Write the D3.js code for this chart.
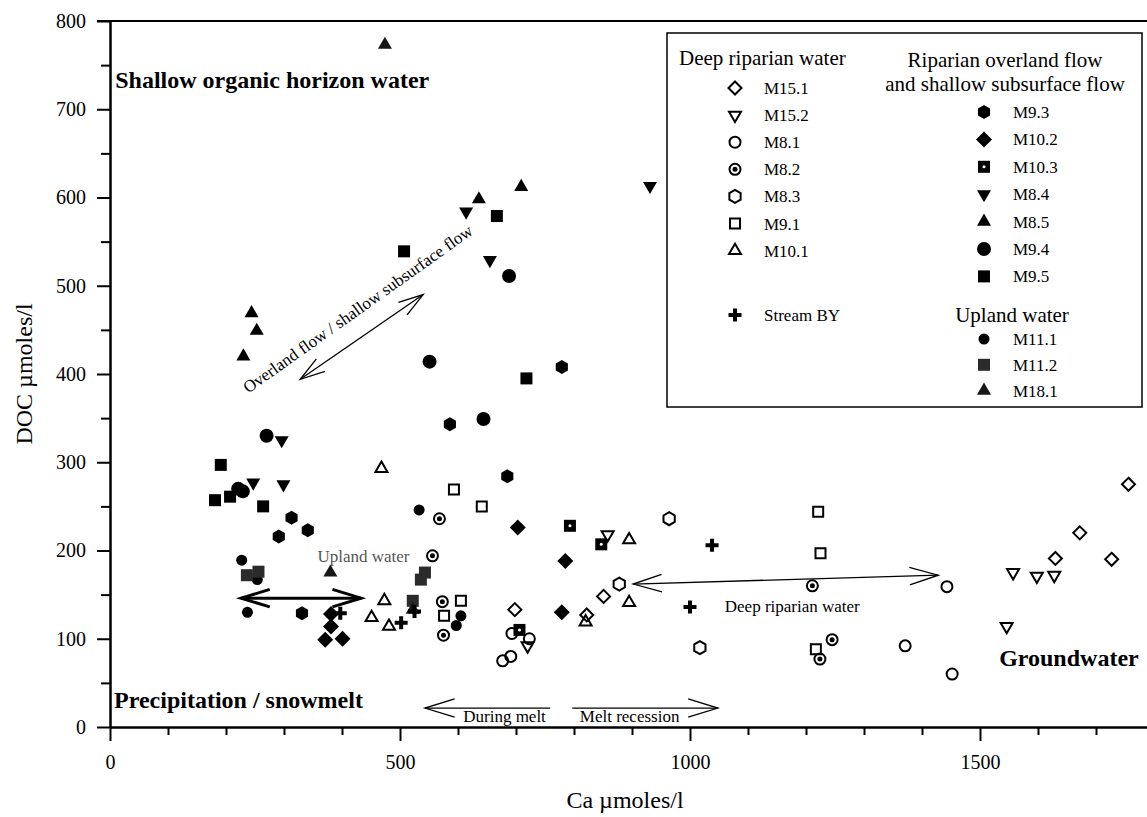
<!DOCTYPE html>
<html>
<head>
<meta charset="utf-8">
<script src="https://cdn.jsdelivr.net/npm/d3@7"></script>
<style>
  body { margin: 0; background: #fff; }
  text { font-family: "Liberation Serif", "Times New Roman", serif; fill: #000; }
</style>
</head>
<body>
<div id="chart"></div>
<script>
// Data: [Ca µmoles/l, DOC µmoles/l]
// Deep riparian water
var M15_1 = [[698,133],[822,127],[851,148],[1630,191],[1672,220],[1727,190],[1756,275]];
var M15_2 = [[858,218],[720,92],[1546,114],[1557,175],[1598,171],[1628,172]];
var M8_1  = [[693,106],[723,100],[677,75],[691,80],[1443,159],[1371,92],[1452,60]];
var M8_2  = [[568,236],[556,194],[573,142],[575,104],[1211,160],[1245,99],[1224,77]];
var M8_3  = [[964,236],[878,162],[1017,90]];
var M9_1  = [[593,269],[641,250],[605,143],[576,126],[1221,244],[1225,197],[1217,88]];
var M10_1 = [[468,293],[473,143],[451,124],[481,114],[895,212],[895,141],[820,119]];
var STREAM_BY = [[397,129],[502,118],[525,131],[1038,206],[1000,136]];
// Riparian overland flow and shallow subsurface flow
var M9_3  = [[313,237],[341,223],[291,216],[331,129],[586,343],[779,408],[685,284]];
var M10_2 = [[703,226],[785,188],[779,130],[381,128],[381,114],[371,99],[401,100]];
var M10_3 = [[793,228],[847,207],[706,110]];
var M8_4  = [[614,584],[655,529],[931,613],[296,325],[247,277],[299,275]];
var M8_5  = [[709,612],[636,598],[244,469],[253,449],[230,420]];
var M9_4  = [[270,330],[688,511],[551,414],[644,349],[221,270],[229,267]];
var M9_5  = [[507,539],[667,579],[718,395],[191,297],[207,261],[181,257],[264,250]];
// Upland water
var M11_1 = [[227,189],[237,130],[533,246],[605,126],[597,115],[254,167]];
var M11_2 = [[236,172],[256,176],[536,167],[543,175],[522,143]];
var M18_1 = [[474,773],[380,175],[522,133]];

var yTicks = [0,100,200,300,400,500,600,700,800];
var xTicks = [0,500,1000,1500];

var svgWidth = 1147;
var svgHeight = 817;

var svg = d3.select("#chart")
  .append("svg")
  .attr("width", svgWidth)
  .attr("height", svgHeight);

var x = d3.scaleLinear().domain([0, 1800]).range([110, 1154]);
var y = d3.scaleLinear().domain([0, 800]).range([727, 21]);

// marker shapes
function hexPath(r) {
  var p = d3.range(6).map(function(k) {
    var a = (-90 + k * 60) * Math.PI / 180;
    return [r * Math.cos(a), r * Math.sin(a)];
  });
  return "M" + p.join("L") + "Z";
}
function diamondPath(r) { return "M0," + (-r) + "L" + r + ",0L0," + r + "L" + (-r) + ",0Z"; }
function squarePath(a) { return "M" + (-a) + "," + (-a) + "h" + (2*a) + "v" + (2*a) + "h" + (-2*a) + "Z"; }
function triPath(s, down) {
  var h = s * Math.sqrt(3) / 2, k = down ? -1 : 1;
  return "M0," + (k * -2*h/3) + "L" + (s/2) + "," + (k * h/3) + "L" + (-s/2) + "," + (k * h/3) + "Z";
}
function circlePath(r) { return "M" + r + ",0A" + r + "," + r + " 0 1,1 " + (-r) + ",0A" + r + "," + r + " 0 1,1 " + r + ",0Z"; }
function crossPath(a, t) {
  return "M" + (-t) + "," + (-a) + "H" + t + "V" + (-t) + "H" + a + "V" + t + "H" + t + "V" + a +
    "H" + (-t) + "V" + t + "H" + (-a) + "V" + (-t) + "H" + (-t) + "Z";
}

var series = [
  {name: "M15.1", data: M15_1, path: diamondPath(6.5), fill: "none", sw: 2},
  {name: "M15.2", data: M15_2, path: triPath(12, true), fill: "none", sw: 2},
  {name: "M8.1", data: M8_1, path: circlePath(5.5), fill: "none", sw: 2},
  {name: "M8.2", data: M8_2, path: circlePath(5.5), fill: "none", sw: 2, dot: 2.5, dotFill: "#000"},
  {name: "M8.3", data: M8_3, path: hexPath(6.5), fill: "none", sw: 2},
  {name: "M9.1", data: M9_1, path: squarePath(5), fill: "none", sw: 2},
  {name: "M10.1", data: M10_1, path: triPath(12, false), fill: "none", sw: 2},
  {name: "M9.3", data: M9_3, path: hexPath(7), fill: "#000", sw: 0},
  {name: "M10.2", data: M10_2, path: diamondPath(8), fill: "#000", sw: 0},
  {name: "M10.3", data: M10_3, path: squarePath(6), fill: "#000", sw: 0, dot: 1.5, dotFill: "#fff"},
  {name: "M8.4", data: M8_4, path: triPath(14, true), fill: "#000", sw: 0},
  {name: "M8.5", data: M8_5, path: triPath(14, false), fill: "#000", sw: 0},
  {name: "M9.4", data: M9_4, path: circlePath(7), fill: "#000", sw: 0},
  {name: "M9.5", data: M9_5, path: squarePath(6), fill: "#000", sw: 0},
  {name: "M11.1", data: M11_1, path: circlePath(5.5), fill: "#000", sw: 0},
  {name: "M11.2", data: M11_2, path: squarePath(6), fill: "#2b2b2b", sw: 0},
  {name: "M18.1", data: M18_1, path: triPath(14, false), fill: "#161616", sw: 0},
  {name: "Stream BY", data: STREAM_BY, path: crossPath(6.5, 2), fill: "#000", sw: 0}
];
var byName = {};
series.forEach(function(s) { byName[s.name] = s; });

function drawMarker(g, s, px, py) {
  g.append("path")
    .attr("d", s.path)
    .attr("transform", "translate(" + px + "," + py + ")")
    .attr("fill", s.fill)
    .attr("stroke", s.sw ? "#000" : "none")
    .attr("stroke-width", s.sw);
  if (s.dot) {
    g.append("circle").attr("cx", px).attr("cy", py).attr("r", s.dot).attr("fill", s.dotFill);
  }
}

// axes
var yAxis = d3.axisLeft(y).tickValues(yTicks).tickSize(13).tickPadding(11).tickSizeOuter(0);
var yMinor = d3.axisLeft(y).tickValues(d3.range(50, 800, 100)).tickSize(9).tickFormat("").tickSizeOuter(0);
var xAxis = d3.axisBottom(x).tickValues(xTicks).tickFormat(d3.format("d"))
  .tickSize(14).tickPadding(14).tickSizeOuter(0);
var xMinor = d3.axisBottom(x).tickValues(d3.range(100, 1800, 100).filter(function(v) { return v % 500 !== 0; }))
  .tickSize(8).tickFormat("").tickSizeOuter(0);

[yAxis, yMinor].forEach(function(ax) {
  svg.append("g").attr("class", "axis").attr("transform", "translate(110,0)").call(ax);
});
[xAxis, xMinor].forEach(function(ax) {
  svg.append("g").attr("class", "axis").attr("transform", "translate(0,727)").call(ax);
});
svg.selectAll(".axis path, .axis line").attr("stroke", "#000").attr("stroke-width", 2);
svg.selectAll(".axis text").style("font-family", "Liberation Serif, serif").attr("font-size", 20);

// top frame line
svg.append("line").attr("x1", 97).attr("x2", svgWidth).attr("y1", y(800)).attr("y2", y(800))
  .attr("stroke", "#000").attr("stroke-width", 2);

// axis titles
svg.append("text")
  .attr("transform", "translate(24," + y(400) + ") rotate(-90)")
  .attr("text-anchor", "middle").attr("dy", "0.35em")
  .attr("font-size", 24).text("DOC µmoles/l");
svg.append("text")
  .attr("x", 625).attr("y", 808)
  .attr("text-anchor", "middle")
  .attr("font-size", 24).text("Ca µmoles/l");

// annotation arrows (data units)
var arrows = [
  {from: [328, 394], to: [540, 490], both: true, w: 1.3, len: 26},
  {from: [902, 162], to: [1428, 172], both: true, w: 1.3, len: 30},
  {from: [226, 146], to: [433, 146], both: true, w: 3, len: 30},
  {from: [759, 21.5], to: [543, 21.5], both: false, w: 1.3, len: 31},
  {from: [797, 21.5], to: [1048, 21.5], both: false, w: 1.3, len: 31}
];
function head(g, tip, tail, a) {
  var ang = Math.atan2(tail[1] - tip[1], tail[0] - tip[0]);
  var da = 17 * Math.PI / 180;
  var p1 = [tip[0] + a.len * Math.cos(ang + da), tip[1] + a.len * Math.sin(ang + da)];
  var p2 = [tip[0] + a.len * Math.cos(ang - da), tip[1] + a.len * Math.sin(ang - da)];
  g.append("path").attr("d", "M" + p1 + "L" + tip + "L" + p2)
    .attr("fill", "none").attr("stroke", "#000").attr("stroke-width", a.w);
}
var annG = svg.append("g");
arrows.forEach(function(a) {
  var p0 = [x(a.from[0]), y(a.from[1])], p1 = [x(a.to[0]), y(a.to[1])];
  annG.append("line").attr("x1", p0[0]).attr("y1", p0[1]).attr("x2", p1[0]).attr("y2", p1[1])
    .attr("stroke", "#000").attr("stroke-width", a.w);
  head(annG, p1, p0, a);
  if (a.both) head(annG, p0, p1, a);
});

// annotation texts
var notes = [
  {t: "Shallow organic horizon water", at: [9, 724], size: 24, bold: true},
  {t: "Precipitation / snowmelt", at: [7, 21.5], size: 24, bold: true},
  {t: "Groundwater", at: [1533, 69], size: 24, bold: true},
  {t: "Upland water", at: [437, 187], size: 17, anchor: "middle", color: "#555"},
  {t: "Deep riparian water", at: [1060, 130], size: 17},
  {t: "During melt", at: [609, 5.7], size: 17},
  {t: "Melt recession", at: [810, 5.7], size: 17}
];
notes.forEach(function(n) {
  annG.append("text")
    .attr("x", x(n.at[0])).attr("y", y(n.at[1]))
    .attr("text-anchor", n.anchor || "start")
    .attr("font-size", n.size)
    .attr("font-weight", n.bold ? "bold" : "normal")
    .style("fill", n.color || "#000")
    .text(n.t);
});
annG.append("text")
  .attr("transform", "translate(" + x(427) + "," + y(474) + ") rotate(-35.4)")
  .attr("text-anchor", "middle").attr("dy", "0.35em")
  .attr("font-size", 17)
  .text("Overland flow / shallow subsurface flow");

// points
var pts = svg.append("g");
series.forEach(function(s) {
  s.data.forEach(function(d) { drawMarker(pts, s, x(d[0]), y(d[1])); });
});

// legend
var leg = svg.append("g");
leg.append("rect").attr("x", 667).attr("y", 33).attr("width", 475).attr("height", 374)
  .attr("fill", "#fff").attr("stroke", "#000").attr("stroke-width", 1.5);

var legHeads = [
  {t: "Deep riparian water", x: 679, y: 65, anchor: "start"},
  {t: "Riparian overland flow", x: 1005, y: 67, anchor: "middle"},
  {t: "and shallow subsurface flow", x: 1005, y: 91, anchor: "middle"},
  {t: "Upland water", x: 1012, y: 322, anchor: "middle"}
];
legHeads.forEach(function(h) {
  leg.append("text").attr("x", h.x).attr("y", h.y).attr("text-anchor", h.anchor)
    .attr("font-size", 21).text(h.t);
});

var legLeft = ["M15.1", "M15.2", "M8.1", "M8.2", "M8.3", "M9.1", "M10.1"];
var legRight = ["M9.3", "M10.2", "M10.3", "M8.4", "M8.5", "M9.4", "M9.5"];
var legUpland = ["M11.1", "M11.2", "M18.1"];

function legItem(name, sx, sy) {
  drawMarker(leg, byName[name], sx, sy);
  leg.append("text").attr("x", sx + 29).attr("y", sy + 6).attr("font-size", 17).text(name);
}
legLeft.forEach(function(n, i) { legItem(n, 735, 88 + i * 27.1); });
legItem("Stream BY", 735, 315);
legRight.forEach(function(n, i) { legItem(n, 984, 112 + i * 27.4); });
legUpland.forEach(function(n, i) { legItem(n, 984, 339 + i * 25.8); });
</script>
</body>
</html>
